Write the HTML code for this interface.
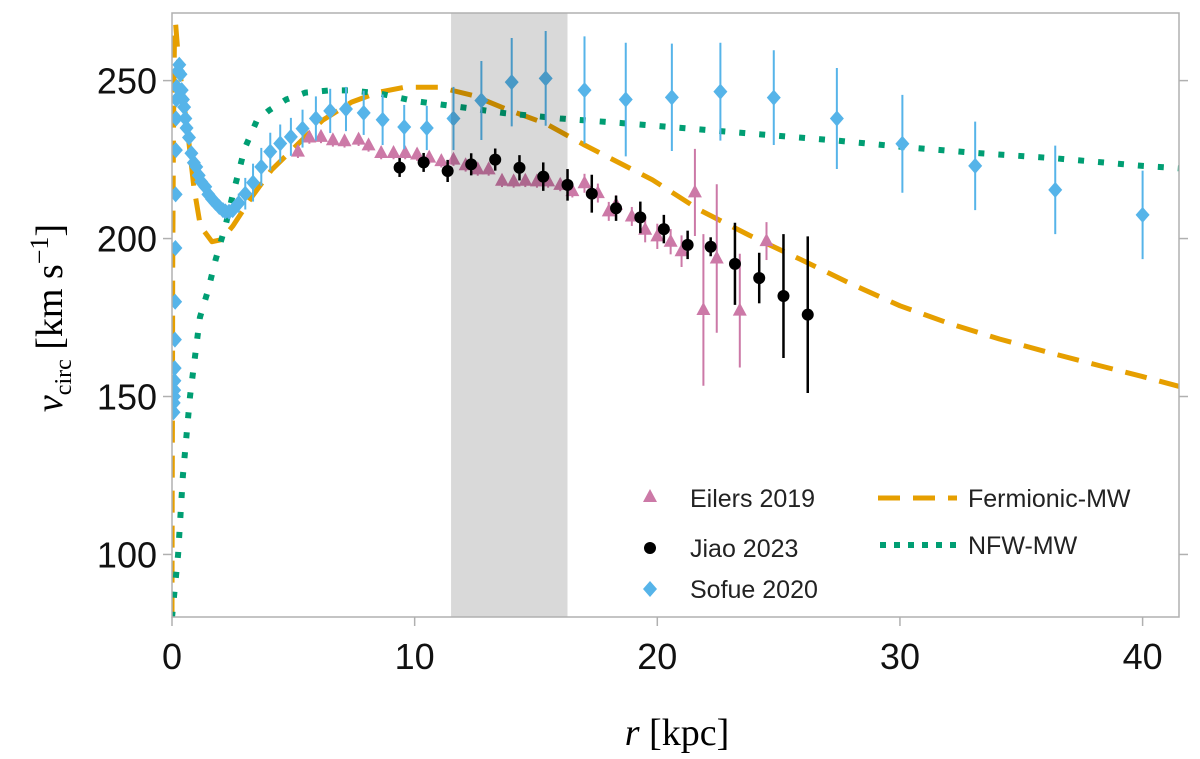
<!DOCTYPE html>
<html><head><meta charset="utf-8"><style>
html,body{margin:0;padding:0;background:#fff;}
svg{display:block;}
text{font-family:"Liberation Sans","DejaVu Sans",sans-serif;}
</style></head><body>
<svg id="chart" width="1200" height="759" viewBox="0 0 1200 759">
<g id="plot"></g>
</svg>
<script>
const xTicks=[0,10,20,30,40];
const yTicks=[100,150,200,250];
const eilersR=[5.19,5.66,6.14,6.63,7.11,7.69,8.1,8.62,9.13,9.61,10.1,10.6,11.1,11.6,12.1,12.6,13.05,13.6,14.08,14.56,15.04,15.5,16.0,16.5,17.0,17.55,18.0,18.3,18.95,19.5,20.0,20.55,21.0,21.55,21.9,22.45,23.4,24.5];
const eilersV=[227.5,232,232.2,231.1,230.8,231.3,229.5,227.1,227.1,227.1,226.6,225.6,224.5,225,223.2,221.9,221.9,218.3,218.1,218.3,218.1,218.1,217,215,217.5,214.4,208.6,210.7,207,202.8,200.7,199,196,214.6,177.4,193.7,177.2,199.2];
const eilersErr=[2,2,2,2,2,2,2,2,2,2,2,2,2,2,2,2,2,2,2,2,2,2,2,2,3,3,3,3,3,4,4,4,5,13.8,24,23.5,18,6];
const jiaoR=[9.38,10.37,11.36,12.33,13.32,14.32,15.3,16.3,17.3,18.3,19.3,20.27,21.25,22.2,23.2,24.2,25.2,26.2];
const jiaoV=[222.5,224.1,221.4,223.5,225,222.4,219.6,217,214.2,209.6,206.7,203,198,197.4,192,187.5,181.8,175.9];
const jiaoErr=[3,3,3.5,3.5,3.5,4,4.5,5,6,4,5,4.5,4.5,3,13,8,19.6,24.8];
const sofueR=[0.06,0.07,0.08,0.09,0.1,0.11,0.12,0.13,0.14,0.15,0.16,0.17,0.18,0.2,0.25,0.3,0.35,0.4,0.45,0.5,0.55,0.6,0.7,0.8,0.9,1.0,1.1,1.2,1.37,1.5,1.65,1.79,1.95,2.1,2.2,2.35,2.5,2.75,3.02,3.34,3.68,4.05,4.46,4.9,5.38,5.93,6.52,7.17,7.9,8.68,9.57,10.5,11.6,12.75,14.0,15.4,17.0,18.7,20.6,22.6,24.8,27.4,30.1,33.1,36.4,40.0];
const sofueV=[145,148,150,152,155,159,168,180,197,214,228,238,244,248,253,255,252,247,244,241.6,238,235,232,227,224,222.7,220,218,216.4,214,212.5,211.3,210,209,208.6,208.5,209,211.2,214.2,217.7,222.7,227.5,230.1,232.2,234.8,238,240.4,241,239.8,237.6,235.3,235,238,243.7,249.5,250.7,247,244,244.7,246.5,244.6,238,230,223,215.4,207.5];
const sofueErr=[1,1,1,1,1,1,1,1,1,1,1,1,1,1,1,1,1,1,1,1,1,1,1,1,1,1,1,1,1,1,1,1,1,1,1,1,1,3,5,6,6,6,6,6,6,7,7,7,7,8,7,7,10,12.5,14,15,17,18,17,15.5,15,16,15.5,14,14,14];
const fermR=[0,0.01,0.02,0.03,0.06,0.1,0.15,0.27,0.48,0.69,0.9,1.17,1.65,2.06,2.5,3.3,4.1,5.2,6.2,7.4,8.5,9.6,11,12.4,13.7,15.4,17,19.8,21.75,23.8,25.9,28,30,32,34.1,36.2,38.2,40,41.6];
const fermV=[80,120,150,190,235,262,268,256,243.7,231,216.4,203.9,199,199.7,203.9,213.3,221.7,230,237.4,243.2,246.3,247.9,247.9,245.3,241.2,236.4,229.6,218.6,209,201,193.4,185.6,178.7,173.2,168.2,163.8,159.8,156.3,153];
const nfwR=[0,0.1,0.25,0.45,0.74,1.15,1.5,1.65,1.8,2.0,2.2,2.5,3.0,3.5,4.0,4.7,5.5,6.5,7.3,8.5,10,11.9,13.7,16,18.6,22.6,27.4,30.1,33.1,36.4,40,42];
const nfwV=[80,88,100,125,150,175,184,188.7,193.4,198.7,203.9,213.8,228.6,237.4,240.6,244,246.2,246.9,246.9,246,243.5,241.6,239.7,238,236.5,234,231,229,227.1,225.4,223,222];
const L=172,R=1179,T=13,B=617,XMAX=41.5,YMIN=80.2,YMAX=271.4;
const X=r=>L+(r/XMAX)*(R-L);
const Y=v=>B-(v-YMIN)/(YMAX-YMIN)*(B-T);
const NS='http://www.w3.org/2000/svg';
const svg=document.getElementById('chart');
const plot=document.getElementById('plot');
function mk(tag,attrs,parent){const e=document.createElementNS(NS,tag);for(const k in attrs)e.setAttribute(k,attrs[k]);(parent||plot).appendChild(e);return e;}
const clip=mk('clipPath',{id:'pc'},svg);mk('rect',{x:L,y:T,width:R-L,height:B-T},clip);
const g=mk('g',{'clip-path':'url(#pc)'});


function lineOf(rs,vs,attrs,name){const d=rs.map((r,i)=>(i?'L':'M')+X(r).toFixed(1)+','+Y(vs[i]).toFixed(1)).join('');const p=mk('path',Object.assign({d:d,fill:'none','stroke-linejoin':'round'},attrs),g);

}
lineOf(fermR,fermV,{stroke:'#E69F00','stroke-width':5,'stroke-dasharray':'22 13'},'fermionic-mw-line');
lineOf(nfwR,nfwV,{stroke:'#009E73','stroke-width':6,'stroke-dasharray':'6 14'},'nfw-mw-line');
function errs(rs,vs,es,col,w,name){rs.forEach((r,i)=>{const l=mk('line',{x1:X(r),x2:X(r),y1:Y(vs[i]-es[i]),y2:Y(vs[i]+es[i]),stroke:col,'stroke-width':w},g);

});}
errs(eilersR,eilersV,eilersErr,'#CC79A7',2,'eilers-errorbar');
eilersR.forEach((r,i)=>{const x=X(r),y=Y(eilersV[i]);const p=mk('path',{d:`M${x},${y-8}L${x+7},${y+5}L${x-7},${y+5}Z`,fill:'#CC79A7'},g);

});
errs(jiaoR,jiaoV,jiaoErr,'#000',2.5,'jiao-errorbar');
jiaoR.forEach((r,i)=>{const c=mk('circle',{cx:X(r),cy:Y(jiaoV[i]),r:6,fill:'#000'},g);

});
errs(sofueR,sofueV,sofueErr,'#56B4E9',2,'sofue-errorbar');
sofueR.forEach((r,i)=>{const x=X(r),y=Y(sofueV[i]);const p=mk('path',{d:`M${x},${y-8}L${x+7},${y}L${x},${y+8}L${x-7},${y}Z`,fill:'#56B4E9'},g);

});
const band=mk('rect',{x:X(11.5),y:T,width:X(16.3)-X(11.5),height:B-T,fill:'rgba(0,0,0,0.15)'});


const frame=mk('rect',{x:L,y:T,width:R-L,height:B-T,fill:'none',stroke:'#b0b0b0','stroke-width':1.5});


xTicks.forEach(t=>{const x=X(t);const l=mk('line',{x1:x,x2:x,y1:B,y2:B+9,stroke:'#b0b0b0','stroke-width':1.5});


const tx=mk('text',{x:x,y:B+52,'text-anchor':'middle','font-size':36,fill:'#111'});tx.textContent=t;

});
yTicks.forEach(t=>{const y=Y(t);const l=mk('line',{x1:L-9,x2:L,y1:y,y2:y,stroke:'#b0b0b0','stroke-width':1.5});


const r2=mk('line',{x1:R,x2:R+9,y1:y,y2:y,stroke:'#b0b0b0','stroke-width':1.5});


const tx=mk('text',{x:L-15,y:y+13,'text-anchor':'end','font-size':36,fill:'#111'});tx.textContent=t;

});
</script>
<script>
(function(){
const NS='http://www.w3.org/2000/svg';const svg=document.getElementById('chart');
function add(html){const g=document.createElementNS(NS,'g');g.innerHTML=html;svg.appendChild(g);return g;}
add(`<text x="677" y="745" text-anchor="middle" font-size="38" style="font-family:'Liberation Serif',serif"><tspan font-style="italic">r</tspan> [kpc]</text>
<text transform="translate(62,318) rotate(-90)" text-anchor="middle" font-size="38" style="font-family:'Liberation Serif',serif"><tspan font-style="italic">v</tspan><tspan font-size="24" dy="9">circ</tspan><tspan dy="-9"> [km s</tspan><tspan font-size="26" dy="-14">−1</tspan><tspan dy="14">]</tspan></text>
<g>
<g><path d="M650,489L657,502L643,502Z" fill="#CC79A7"/><text x="690" y="507" font-size="25" fill="#222">Eilers 2019</text></g>
<g><circle cx="650" cy="548" r="6" fill="#000"/><text x="690" y="557" font-size="25" fill="#222">Jiao 2023</text></g>
<g><path d="M650,581L657,589L650,597L643,589Z" fill="#56B4E9"/><text x="690" y="598" font-size="25" fill="#222">Sofue 2020</text></g>
<g><line x1="878" y1="498" x2="957" y2="498" stroke="#E69F00" stroke-width="5" stroke-dasharray="22 13"/><text x="968" y="507" font-size="25" fill="#222">Fermionic-MW</text></g>
<g><line x1="880" y1="545" x2="957" y2="545" stroke="#009E73" stroke-width="6" stroke-dasharray="6 8"/><text x="968" y="554" font-size="25" fill="#222">NFW-MW</text></g>
</g>`);
})();
</script>
</body></html>
